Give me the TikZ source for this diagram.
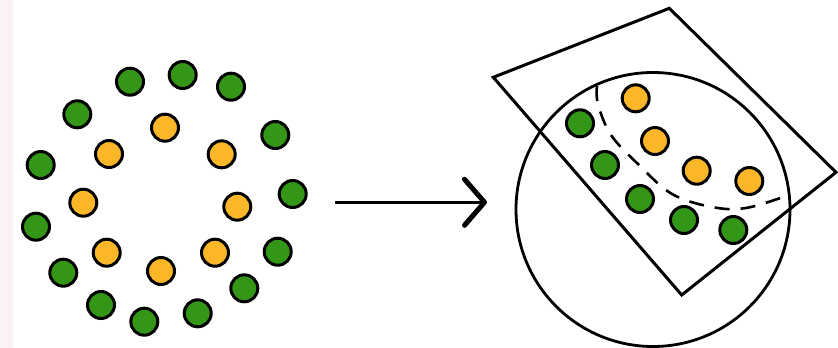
\documentclass[tikz,border=0pt]{standalone}
\usetikzlibrary{arrows.meta}
\definecolor{leafgreen}{RGB}{52,150,22}
\definecolor{amber}{RGB}{252,183,40}
\definecolor{edgepink}{RGB}{251,243,243}
\begin{document}
\begin{tikzpicture}[x=1pt,y=-1pt,
  dot/.style={circle,draw=black,line width=3pt,minimum size=27pt,inner sep=0pt},
  gdot/.style={dot,fill=leafgreen},
  odot/.style={dot,fill=amber},
  outline/.style={line width=3pt,line join=miter},
  sep/.style={line width=2.6pt,dash pattern=on 15pt off 11pt}]
% canvas
\useasboundingbox (0,0) rectangle (838,348);
\fill[white] (0,0) rectangle (838,348);
\fill[edgepink] (0,0) rectangle (13,348);

% ---- left: two rings of points ----
% outer ring (green)
\node[gdot] (g1)  at (130,81.7) {};
\node[gdot] (g2)  at (182.7,75) {};
\node[gdot] (g3)  at (231,86.7) {};
\node[gdot] (g4)  at (77.3,114.3) {};
\node[gdot] (g5)  at (275.3,135) {};
\node[gdot] (g6)  at (40.7,165) {};
\node[gdot] (g7)  at (292.7,194) {};
\node[gdot] (g8)  at (36,226.7) {};
\node[gdot] (g9)  at (277.7,251.7) {};
\node[gdot] (g10) at (63.3,272.7) {};
\node[gdot] (g11) at (244.3,288.3) {};
\node[gdot] (g12) at (101,305) {};
\node[gdot] (g13) at (197.7,313.3) {};
\node[gdot] (g14) at (144.3,321.7) {};
% inner ring (amber)
\node[odot] (o1) at (165,127.7) {};
\node[odot] (o2) at (109,154) {};
\node[odot] (o3) at (221.7,154.3) {};
\node[odot] (o4) at (83.3,202.7) {};
\node[odot] (o5) at (237.3,206.7) {};
\node[odot] (o6) at (106.7,252.7) {};
\node[odot] (o7) at (215,252.7) {};
\node[odot] (o8) at (161,271) {};

% ---- mapping arrow ----
\coordinate (mapfrom) at (335,202.3);
\coordinate (mapto) at (487,202.3);
\draw[line width=3.4pt,
  -{Straight Barb[length=20pt,width=46pt,line width=5pt,round]}]
  (mapfrom) -- (mapto);

% ---- right: feature space with separating boundary ----
\draw[line width=2.8pt] (653,209.5) circle [radius=137pt];
\draw[outline] (493.3,77.3) -- (669.3,8.3) -- (836,172.3) -- (681.7,295) -- cycle;
\draw[sep] plot[smooth,tension=0.6] coordinates
  {(597,86) (598,104) (611,135) (639,165) (672,194) (712,207) (746,208) (789,195)};

\node[odot] (p1) at (635.7,98.3) {};
\node[odot] (p2) at (655,141) {};
\node[odot] (p3) at (696.7,170.7) {};
\node[odot] (p4) at (749.3,181) {};
\node[gdot] (q1) at (580,123.3) {};
\node[gdot] (q2) at (605,165) {};
\node[gdot] (q3) at (640,199) {};
\node[gdot] (q4) at (684,220) {};
\node[gdot] (q5) at (733.3,230) {};
\end{tikzpicture}
\end{document}
